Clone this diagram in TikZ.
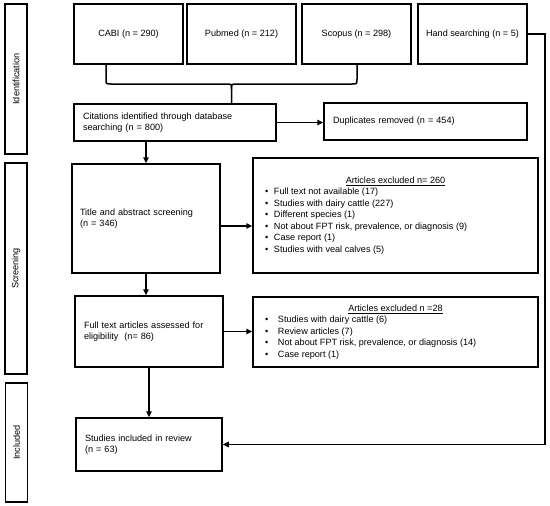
\documentclass[tikz,border=0pt]{standalone}
\usepackage{fontspec}
\setmainfont{Liberation Sans}
\usetikzlibrary{arrows.meta,calc}
\newcommand{\bli}[2]{\makebox[#1][l]{\textbullet}#2\par}
\newcommand{\myfs}{\fontsize{9.1}{11.5}\selectfont}
\begin{document}
\begin{tikzpicture}[x=1pt,y=-1pt,
  box/.style={draw, line width=1.5pt, inner sep=0pt, font=\myfs},
  lbox/.style={box, align=left, inner xsep=9pt},
  conn/.style={line width=1.5pt},
  arr/.style={line width=1.5pt, -{Triangle[length=6pt,width=5.5pt]}}
]
\useasboundingbox (0,0) rectangle (550,506);
% side labels
\node[box, rotate=90, minimum width=150pt, minimum height=22pt] (id) at (16,79) {Identification};
\node[box, rotate=90, minimum width=211pt, minimum height=22pt] (scr) at (16,268.5) {Screening};
\node[box, rotate=90, minimum width=119pt, minimum height=22pt] (inc) at (16.5,442.5) {Included};
% sources
\node[box, minimum width=109pt, minimum height=60pt] (cabi) at (128.5,34) {CABI (n = 290)};
\node[box, minimum width=109pt, minimum height=60pt] (pub) at (241.5,34) {Pubmed (n = 212)};
\node[box, minimum width=109pt, minimum height=60pt] (sco) at (356.5,34) {Scopus (n = 298)};
\node[box, minimum width=109pt, minimum height=60pt] (hand) at (472.5,34) {Hand searching (n = 5)};
% flow
\node[lbox, text width=184pt, minimum height=37pt] (cit) at (175,122.5) {Citations identified through database\\searching (n = 800)};
\node[lbox, text width=185pt, minimum height=37pt] (dup) at (425.5,121.5) {Duplicates removed (n = 454)};
\node[lbox, inner xsep=8pt, text width=132pt, minimum height=109pt] (title) at (146,218.5) {Title and abstract screening\\(n = 346)};
\node[lbox, text width=130pt, minimum height=71pt] (full) at (149,331.5) {Full text articles assessed for\\eligibility~ (n= 86)};
\node[lbox, text width=128pt, minimum height=53pt] (stud) at (149,444.5) {Studies included in review\\(n = 63)};
\node[box, minimum width=285pt, minimum height=115pt] (ex1) at (395.5,215.5) {\begin{minipage}{261pt}\myfs
\centering\underline{Articles excluded n= 260}\par\raggedright
\bli{9pt}{Full text not available (17)}
\bli{9pt}{Studies with dairy cattle (227)}
\bli{9pt}{Different species (1)}
\bli{9pt}{Not about FPT risk, prevalence, or diagnosis (9)}
\bli{9pt}{Case report (1)}
\bli{9pt}{Studies with veal calves (5)}
\end{minipage}};
\node[box, minimum width=285pt, minimum height=70pt] (ex2) at (395.5,332) {\begin{minipage}{261pt}\myfs
\centering\underline{Articles excluded n =28}\par\raggedright
\bli{13pt}{Studies with dairy cattle (6)}
\bli{13pt}{Review articles (7)}
\bli{13pt}{Not about FPT risk, prevalence, or diagnosis (14)}
\bli{13pt}{Case report (1)}
\end{minipage}};
% brace
\coordinate (bl) at (106,64);
\coordinate (br) at (357,64);
\coordinate (tip) at (231.5,104);
\draw[conn] (bl) -- (106,79) .. controls (106,84) .. (111,84) -- (226.5,84) .. controls (231.5,84) .. (231.5,89) -- (tip);
\draw[conn] (br) -- (357,79) .. controls (357,84) .. (352,84) -- (236.5,84) .. controls (231.5,84) .. (231.5,89);
% arrows
\draw[arr] (title.north |- cit.south) -- (title.north);
\draw[arr] (cit.east) -- (cit.east -| dup.west);
\draw[arr] (title.south) -- (title.south |- full.north);
\draw[arr] ([yshift=-7.5pt]title.east) -- ([yshift=-7.5pt]title.east -| ex1.west);
\draw[arr] (full.east) -- (full.east -| ex2.west);
\draw[arr] (full.south) -- (stud.north);
\coordinate (hc) at (545,444.5);
\draw[arr] (hand.east) -| (hc) -- (stud.east);
\end{tikzpicture}
\end{document}
